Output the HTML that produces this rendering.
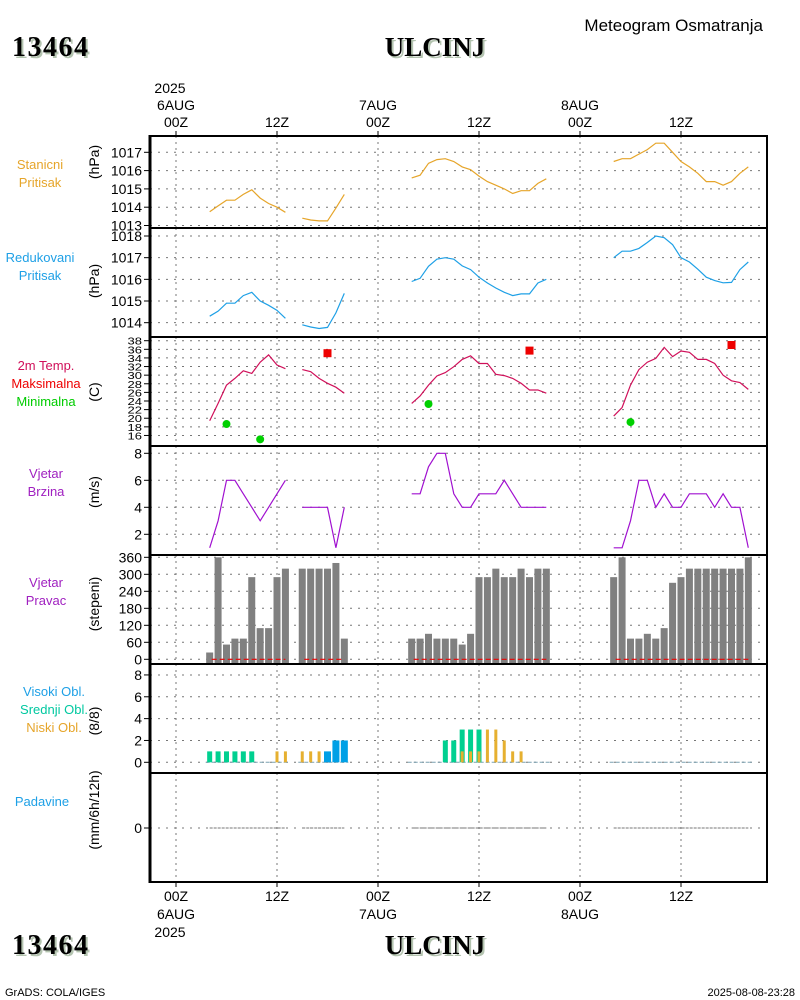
<!DOCTYPE html>
<html><head><meta charset="utf-8">
<style>
html,body{margin:0;padding:0;background:#fff;}
svg{display:block;font-family:"Liberation Sans",sans-serif;}
.t{font-size:14px;fill:#000;}
.ttl{font-family:"Liberation Serif",serif;font-weight:bold;font-size:27px;}
.ttl2{font-family:"Liberation Serif",serif;font-weight:bold;font-size:28px;letter-spacing:1.5px;}
</style></head>
<body>
<svg id="chart" width="800" height="1000" viewBox="0 0 800 1000" xmlns="http://www.w3.org/2000/svg">
<rect x="0" y="0" width="800" height="1000" fill="#fff"/>
<text x="763" y="31" class="t" text-anchor="end" style="font-size:17px">Meteogram Osmatranja</text>
<g><text x="14" y="58" class="ttl2" fill="#b4c4b0">13464</text><text x="12" y="56" class="ttl2" fill="#000">13464</text></g>
<g><text x="437" y="58" class="ttl" fill="#b4c4b0" text-anchor="middle">ULCINJ</text><text x="435" y="56" class="ttl" fill="#000" text-anchor="middle">ULCINJ</text></g>
<g><text x="14" y="956" class="ttl2" fill="#b4c4b0">13464</text><text x="12" y="954" class="ttl2" fill="#000">13464</text></g>
<g><text x="437" y="956" class="ttl" fill="#b4c4b0" text-anchor="middle">ULCINJ</text><text x="435" y="954" class="ttl" fill="#000" text-anchor="middle">ULCINJ</text></g>
<text x="5" y="996" style="font-size:11px">GrADS: COLA/IGES</text>
<text x="795" y="996" style="font-size:11px" text-anchor="end">2025-08-08-23:28</text>

<g text-anchor="middle">
<text x="40" y="169" fill="#e6a52a" style="font-size:13px"><tspan x="40">Stanicni</tspan><tspan x="40" dy="18">Pritisak</tspan></text>
<text x="40" y="262" fill="#1ea0e6" style="font-size:13px"><tspan x="40">Redukovani</tspan><tspan x="40" dy="18">Pritisak</tspan></text>
<text x="46" y="370" fill="#d0105a" style="font-size:13px">2m Temp.</text>
<text x="46" y="388" fill="#ee0000" style="font-size:13px">Maksimalna</text>
<text x="46" y="406" fill="#00cc00" style="font-size:13px">Minimalna</text>
<text x="46" y="478" fill="#a020c0" style="font-size:13px"><tspan x="46">Vjetar</tspan><tspan x="46" dy="18">Brzina</tspan></text>
<text x="46" y="587" fill="#a020c0" style="font-size:13px"><tspan x="46">Vjetar</tspan><tspan x="46" dy="18">Pravac</tspan></text>
<text x="54" y="696" fill="#1ea0e6" style="font-size:13px">Visoki Obl.</text>
<text x="54" y="714" fill="#00c8a0" style="font-size:13px">Srednji Obl.</text>
<text x="54" y="732" fill="#e6a52a" style="font-size:13px">Niski Obl.</text>
<text x="42" y="806" fill="#1ea0e6" style="font-size:13px">Padavine</text>
</g>
<g id="plot"></g>
</svg>
<script>
const hours = [4,5,6,7,8,9,10,11,12,13,14,15,16,17,18,19,20,21,22,23,24,25,26,27,28,29,30,31,32,33,34,35,36,37,38,39,40,41,42,43,44,45,46,47,48,49,50,51,52,53,54,55,56,57,58,59,60,61,62,63,64,65,66,67,68];
const N7 = [null,null,null,null,null,null,null];
const stationPressure = [1013.75,1014.07,1014.38,1014.38,1014.7,1014.95,1014.5,1014.2,1014.0,1013.72,null,1013.4,1013.3,1013.25,1013.25,1013.95,1014.7].concat(N7,[1015.6,1015.75,1016.4,1016.6,1016.65,1016.5,1016.2,1016.05,1015.7,1015.4,1015.2,1015.0,1014.75,1014.9,1014.9,1015.3,1015.55],N7,[1016.5,1016.65,1016.65,1016.9,1017.15,1017.5,1017.5,1017.0,1016.5,1016.2,1015.85,1015.4,1015.4,1015.2,1015.4,1015.85,1016.2]);
const reducedPressure = [1014.3,1014.53,1014.9,1014.9,1015.25,1015.4,1015.0,1014.8,1014.57,1014.2,null,1013.9,1013.8,1013.73,1013.78,1014.45,1015.35].concat(N7,[1015.9,1016.05,1016.6,1016.93,1017.0,1016.93,1016.62,1016.45,1016.1,1015.83,1015.6,1015.4,1015.25,1015.33,1015.33,1015.83,1016.0],N7,[1017.0,1017.3,1017.3,1017.43,1017.7,1018.0,1017.92,1017.6,1017.0,1016.8,1016.47,1016.1,1015.94,1015.84,1015.86,1016.45,1016.8]);
const temperature = [19.4,23.45,27.7,29.25,31.0,30.4,33.0,34.7,32.35,31.5,null,31.3,30.8,29.25,28.1,27.2,25.8].concat(N7,[23.45,25.15,27.7,29.8,30.6,31.96,33.65,34.5,32.7,32.7,30.2,29.9,29.25,28.1,26.55,26.55,25.8],N7,[20.5,22.5,27.7,31.3,33.0,33.9,36.45,34.3,35.6,35.3,33.65,33.65,32.7,30.0,28.7,28.3,26.7]);
const maxTempHours = [18,42,66];
const maxTempValues = [35.1,35.7,37.0];
const minTempHours = [6,10,30,54];
const minTempValues = [18.65,15.1,23.3,19.1];
const windSpeed = [1,3,6,6,5,4,3,4,5,6,null,4,4,4,4,1,4].concat(N7,[5,5,7,8,8,5,4,4,5,5,5,6,5,4,4,4,4],N7,[1,1,3,6,6,4,5,4,4,5,5,5,4,5,4,4,1]);
const windDir = [24,360,52,73,73,290,110,110,290,320,null,320,320,320,320,340,73].concat(N7,[73,73,90,73,73,73,52,90,290,290,320,290,290,320,290,320,320],N7,[290,360,73,73,90,73,110,270,290,320,320,320,320,320,320,320,360]);
const cloudLow = [0,0,0,0,0,0,0,0,1,1,null,1,1,1,0,0,0].concat(N7,[0,0,0,0,0,0,1,1,1,3,3,2,1,1,0,0,0],N7,[0,0,0,0,0,0,0,0,0,0,0,0,0,0,0,0,0]);
const cloudMid = [1,1,1,1,1,1,0,0,0,0,null,0,0,0,0,0,0].concat(N7,[0,0,0,0,2,2,3,3,3,0,0,0,0,0,0,0,0],N7,[0,0,0,0,0,0,0,0,0,0,0,0,0,0,0,0,0]);
const cloudHigh = [0,0,0,0,0,0,0,0,0,0,null,0,0,0,1,2,2].concat(N7,[0,0,0,0,0,0,0,0,0,0,0,0,0,0,0,0,0],N7,[0,0,0,0,0,0,0,0,0,0,0,0,0,0,0,0,0]);
const precip = [0,0,0,0,0,0,0,0,0,0,null,0,0,0,0,0,0].concat(N7,[0,0,0,0,0,0,0,0,0,0,0,0,0,0,0,0,0],N7,[0,0,0,0,0,0,0,0,0,0,0,0,0,0,0,0,0]);
const timeTickHours = [0,12,24,36,48,60];
const timeTickLabels = ["00Z","12Z","00Z","12Z","00Z","12Z"];
const dateLabels = ["6AUG","","7AUG","","8AUG",""];
const p1Ticks = [1013,1014,1015,1016,1017];
const p2Ticks = [1014,1015,1016,1017,1018];
const p3Ticks = [16,18,20,22,24,26,28,30,32,34,36,38];
const p4Ticks = [2,4,6,8];
const p5Ticks = [0,60,120,180,240,300,360];
const p6Ticks = [0,2,4,6,8];
const p7Ticks = [0];

const NS="http://www.w3.org/2000/svg";
const plot=document.getElementById('plot');
function mk(tag,attrs,parent){const e=document.createElementNS(NS,tag);for(const k in attrs)e.setAttribute(k,attrs[k]);(parent||plot).appendChild(e);return e;}
const X0=150,X1=767;
const xS=h=>176+h*101/12;
const panels=[[136,228],[228,337],[337,446],[446,555],[555,664],[664,773],[773,882]];
const yS=[
 v=>152.3+(1017-v)*18.3,
 v=>236+(1018-v)*21.67,
 v=>340.7+(38-v)*4.307,
 v=>453.3+(8-v)*13.5,
 v=>659.3-v*0.2833,
 v=>762.3-v*10.92,
 v=>828-v*10
];
const tickSets=[p1Ticks,p2Ticks,p3Ticks,p4Ticks,p5Ticks,p6Ticks,p7Ticks];
const units=["(hPa)","(hPa)","(C)","(m/s)","(stepeni)","(8/8)","(mm/6h/12h)"];
const unitY=[162,281,392,492,604,721,810];
const grid=mk('g',{});


panels.forEach((p,i)=>{
  timeTickHours.forEach(h=>{
    const l=mk('line',{x1:xS(h),x2:xS(h),y1:p[0],y2:p[1],stroke:'#777','stroke-width':1,'stroke-dasharray':'2,4'},grid);
    
    
  });
  tickSets[i].forEach(v=>{
    const y=yS[i](v);
    const l=mk('line',{x1:X0,x2:X1,y1:y,y2:y,stroke:'#777','stroke-width':1,'stroke-dasharray':'2,6'},grid);
    
    
    const tk=mk('line',{x1:X0-6,x2:X0,y1:y,y2:y,stroke:'#000','stroke-width':1});
    
    
    const t=mk('text',{x:X0-8,y:y+5,'text-anchor':'end',style:i==2?'font-size:13px':'font-size:14px'});
    if(i==2){t.setAttribute('transform','translate(0,'+(y)+') scale(1,0.8) translate(0,'+(-(y))+')');}
    t.textContent=v;
    
    
  });
  const u=mk('text',{x:0,y:0,'text-anchor':'middle',style:'font-size:14px',transform:'translate(99,'+unitY[i]+') rotate(-90)'});
  u.textContent=units[i];
  
  
});
function segments(vals){const segs=[];let cur=[];hours.forEach((h,i)=>{if(vals[i]==null){if(cur.length)segs.push(cur);cur=[];}else cur.push([h,vals[i]]);});if(cur.length)segs.push(cur);return segs;}
function drawLine(vals,pi,color,name){
  segments(vals).forEach(s=>{
    const pl=mk('polyline',{points:s.map(([h,v])=>xS(h).toFixed(1)+','+yS[pi](v).toFixed(1)).join(' '),fill:'none',stroke:color,'stroke-width':1.2});
    
    
  });
}
drawLine(stationPressure,0,'#e6a52a','station-pressure-line');
drawLine(reducedPressure,1,'#1ea0e6','reduced-pressure-line');
drawLine(temperature,2,'#d0105a','temperature-line');
drawLine(windSpeed,3,'#a010d0','wind-speed-line');
maxTempHours.forEach((h,i)=>{
  const r=mk('rect',{x:xS(h)-4,y:yS[2](maxTempValues[i])-4,width:8,height:8,fill:'#ee0000'});
  
  
});
minTempHours.forEach((h,i)=>{
  const c=mk('circle',{cx:xS(h),cy:yS[2](minTempValues[i]),r:4,fill:'#00d000'});
  
  
});
hours.forEach((h,i)=>{
  const v=windDir[i]; if(v==null)return;
  const y=yS[4](v);
  const b=mk('rect',{x:xS(h)-3.5,y:y,width:7,height:663-y,fill:'#808080'});
  
  
});
segments(windDir).forEach(s=>{
  const l=mk('line',{x1:xS(s[0][0])+2,x2:xS(s[s.length-1][0]),y1:yS[4](0),y2:yS[4](0),stroke:'#ee0000','stroke-width':1.2,'stroke-dasharray':'5,3'});
  
  
});
segments(cloudLow).forEach(s=>{
  const l=mk('line',{x1:xS(s[0][0])-4,x2:xS(s[s.length-1][0])+4,y1:yS[5](0),y2:yS[5](0),stroke:'#7aa0b0','stroke-width':1,'stroke-dasharray':'4,2'});
  
  
});
hours.forEach((h,i)=>{
  const x=xS(h),y0=yS[5](0);
  if(cloudHigh[i]>0){const r=mk('rect',{x:x-3.5,y:yS[5](cloudHigh[i]),width:7,height:y0-yS[5](cloudHigh[i]),fill:'#00a0e6'});
    
    }
  if(cloudMid[i]>0){const r=mk('rect',{x:x-2.5,y:yS[5](cloudMid[i]),width:5,height:y0-yS[5](cloudMid[i]),fill:'#00d090'});
    
    }
  if(cloudLow[i]>0){const r=mk('rect',{x:x-1.5,y:yS[5](cloudLow[i]),width:3,height:y0-yS[5](cloudLow[i]),fill:'#e6b030'});
    
    }
});
segments(precip).forEach(s=>{
  const l=mk('line',{x1:xS(s[0][0]),x2:xS(s[s.length-1][0]),y1:yS[6](0),y2:yS[6](0),stroke:'#777','stroke-width':1,'stroke-dasharray':'3,1'});
  
  
});
panels.forEach(p=>{
  const l=mk('line',{x1:X0,x2:X1,y1:p[0],y2:p[0],stroke:'#000','stroke-width':2});
  
  
});
const fb=mk('line',{x1:X0,x2:X1,y1:882,y2:882,stroke:'#000','stroke-width':2});


const fl=mk('line',{x1:X0,x2:X0,y1:135,y2:883,stroke:'#000','stroke-width':3});


const fr=mk('line',{x1:X1,x2:X1,y1:135,y2:883,stroke:'#000','stroke-width':2});


timeTickHours.forEach((h,i)=>{
  const x=xS(h);
  const tt=mk('line',{x1:x,x2:x,y1:131,y2:136,stroke:'#000'});
  
  
  const tb=mk('line',{x1:x,x2:x,y1:882,y2:887,stroke:'#000'});
  
  
  const a=mk('text',{x:x,y:127,'text-anchor':'middle',style:'font-size:14px'});a.textContent=timeTickLabels[i];
  
  
  const b=mk('text',{x:x,y:901,'text-anchor':'middle',style:'font-size:14px'});b.textContent=timeTickLabels[i];
  
  
  if(dateLabels[i]){
    const d=mk('text',{x:x,y:110,'text-anchor':'middle',style:'font-size:14px'});d.textContent=dateLabels[i];
    
    
    const e=mk('text',{x:x,y:919,'text-anchor':'middle',style:'font-size:14px'});e.textContent=dateLabels[i];
    
    
  }
});
const y1=mk('text',{x:xS(0)-6,y:93,'text-anchor':'middle',style:'font-size:14px'});y1.textContent='2025';


const y2=mk('text',{x:xS(0)-6,y:937,'text-anchor':'middle',style:'font-size:14px'});y2.textContent='2025';


</script>
</body></html>
